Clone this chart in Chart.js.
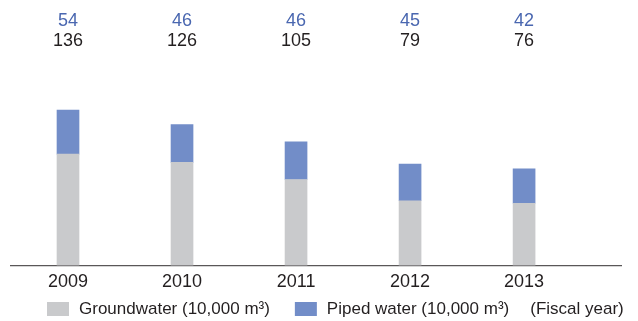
<!DOCTYPE html>
<html>
<head>
<meta charset="utf-8">
<script src="https://cdn.jsdelivr.net/npm/chart.js@4.4.1/dist/chart.umd.min.js"></script>
<style>
  html, body { margin: 0; padding: 0; background: #fff; }
</style>
</head>
<body>
<canvas id="waterChart" width="638" height="321"></canvas>
<script>
const years = [2009, 2010, 2011, 2012, 2013];
const groundwater = [136, 126, 105, 79, 76];
const piped = [54, 46, 46, 45, 42];
const seriesLabels = ['Groundwater (10,000 m³)', 'Piped water (10,000 m³)'];
const unitNote = '(Fiscal year)';

const GRAY = '#c9cacc';
const BLUE = '#728dc8';
const INK = '#231f20';
const FONT = '"Liberation Sans", Arial, Helvetica, sans-serif';

// numbers above each column: piped water first, groundwater underneath
const topLabels = {
  id: 'topLabels',
  afterDatasetsDraw(chart) {
    const { ctx, scales: { x } } = chart;
    ctx.save();
    ctx.font = '18px ' + FONT;
    ctx.textAlign = 'center';
    ctx.textBaseline = 'middle';
    years.forEach((yr, i) => {
      const px = x.getPixelForValue(yr);
      ctx.fillStyle = '#4a67b0';
      ctx.fillText(String(piped[i]), px, 21);
      ctx.fillStyle = INK;
      ctx.fillText(String(groundwater[i]), px, 41);
    });
    ctx.restore();
  }
};

// legend row along the bottom, with the fiscal year note at the end
const bottomLegend = {
  id: 'bottomLegend',
  afterDraw(chart) {
    const { ctx } = chart;
    const cy = 309;
    let xPos = 47;
    ctx.save();
    ctx.font = '17px ' + FONT;
    ctx.textBaseline = 'middle';
    ctx.textAlign = 'left';
    chart.data.datasets.forEach(ds => {
      ctx.fillStyle = ds.backgroundColor;
      ctx.fillRect(xPos, cy - 7, 22, 14);
      xPos += 32;
      ctx.fillStyle = INK;
      ctx.fillText(ds.label, xPos, cy);
      xPos += ctx.measureText(ds.label).width + 25;
    });
    ctx.fillText(unitNote, xPos - 4, cy);
    ctx.restore();
  }
};

new Chart(document.getElementById('waterChart'), {
  type: 'bar',
  data: {
    datasets: [
      {
        label: seriesLabels[0],
        data: years.map((yr, i) => ({ x: yr, y: groundwater[i] })),
        backgroundColor: GRAY,
        barThickness: 22
      },
      {
        label: seriesLabels[1],
        data: years.map((yr, i) => ({ x: yr, y: piped[i] })),
        backgroundColor: BLUE,
        barThickness: 22
      }
    ]
  },
  options: {
    responsive: false,
    animation: false,
    layout: { padding: { left: 11, right: 17, top: 20, bottom: 22 } },
    plugins: {
      legend: { display: false },
      tooltip: { enabled: false }
    },
    scales: {
      x: {
        type: 'linear',
        stacked: true,
        offset: false,
        min: 2008.5,
        max: 2013.85,
        afterBuildTicks: scale => { scale.ticks = years.map(v => ({ value: v })); },
        grid: { display: false, drawTicks: false },
        border: { display: true, color: '#5a5758', width: 1.3 },
        ticks: {
          padding: 6,
          color: INK,
          font: { family: FONT, size: 18 },
          callback: v => String(v)
        }
      },
      y: {
        display: false,
        stacked: true,
        min: 0,
        max: 300
      }
    }
  },
  plugins: [topLabels, bottomLegend]
});
</script>
</body>
</html>
